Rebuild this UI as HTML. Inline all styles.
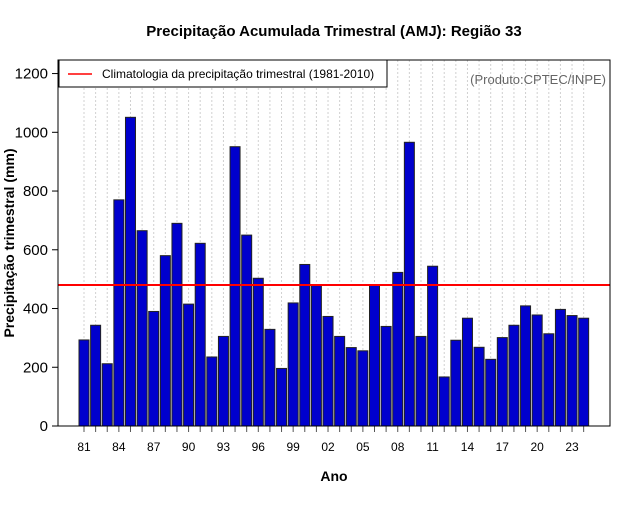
<!DOCTYPE html>
<html><head><meta charset="utf-8"><style>body{margin:0;background:#fff}svg{font-family:"Liberation Sans",sans-serif}</style></head>
<body>
<svg id="c" width="640" height="500">
<text x="334" y="36" text-anchor="middle" font-size="15" font-weight="bold">Precipitação Acumulada Trimestral (AMJ): Região 33</text>
<text x="334" y="481" text-anchor="middle" font-size="14" font-weight="bold">Ano</text>
<text transform="translate(14,243) rotate(-90)" text-anchor="middle" font-size="14" font-weight="bold">Precipitação trimestral (mm)</text>
<g id="grid"></g><g id="bars"></g><g id="axes"></g>
</svg>
<script>
const years=[];for(let y=1981;y<=2024;y++)years.push(y);
const values=[293,343,212,770,1051,665,390,580,690,415,622,235,305,951,650,503,329,196,419,550,478,373,305,267,256,480,339,523,966,305,544,167,292,367,268,227,301,343,409,378,314,397,376,367];
const climatology=[480];
const yTicks=[0,200,400,600,800,1000,1200];
const NS='http://www.w3.org/2000/svg';
const L=58,R=610,T=60,B=426;
const y=v=>B-v*0.2937;
const x=i=>84+i*11.62;
function mk(t,a,p){const e=document.createElementNS(NS,t);for(const k in a)e.setAttribute(k,a[k]);(p||document.getElementById('c')).appendChild(e);return e;}
const g=document.getElementById('grid'),b=document.getElementById('bars'),ax=document.getElementById('axes');
years.forEach((yr,i)=>{
 const gl=mk('line',{x1:x(i),x2:x(i),y1:T,y2:B,stroke:'#d0d0d0','stroke-dasharray':'2,2','stroke-width':1},g);
 
 
 const r=mk('rect',{x:x(i)-5,y:y(values[i]),width:10,height:B-y(values[i]),fill:'#0000cd',stroke:'#222','stroke-width':1},b);
 
 
 const tk=mk('line',{x1:x(i),x2:x(i),y1:B,y2:B+6,stroke:'#555'},ax);
 
 
 if((yr-1981)%3===0){const t=mk('text',{x:x(i),y:451,'text-anchor':'middle','font-size':12},ax);t.textContent=String(yr).slice(2);
 
 }
});
yTicks.forEach(v=>{
 const tk=mk('line',{x1:L-6,x2:L,y1:y(v),y2:y(v),stroke:'#000'},ax);
 
 
 const t=mk('text',{x:L-10,y:y(v)+5,'text-anchor':'end','font-size':15},ax);t.textContent=v;
 
 
});
const cl=mk('line',{x1:L,x2:R,y1:y(climatology[0]),y2:y(climatology[0]),stroke:'#ff0000','stroke-width':2},ax);


const box=mk('rect',{x:L,y:T,width:R-L,height:B-T,fill:'none',stroke:'#000'},ax);


const lg=mk('g',{},ax);


mk('rect',{x:59,y:60,width:328,height:27,fill:'#fff',stroke:'#000'},lg);
mk('line',{x1:68,x2:92,y1:74,y2:74,stroke:'#ff0000','stroke-width':1.5},lg);
const lt=mk('text',{x:102,y:78,'font-size':12},lg);lt.textContent='Climatologia da precipitação trimestral (1981-2010)';


const pt=mk('text',{x:606,y:84,'text-anchor':'end','font-size':13,fill:'#666'},ax);pt.textContent='(Produto:CPTEC/INPE)';


</script>
</body></html>
